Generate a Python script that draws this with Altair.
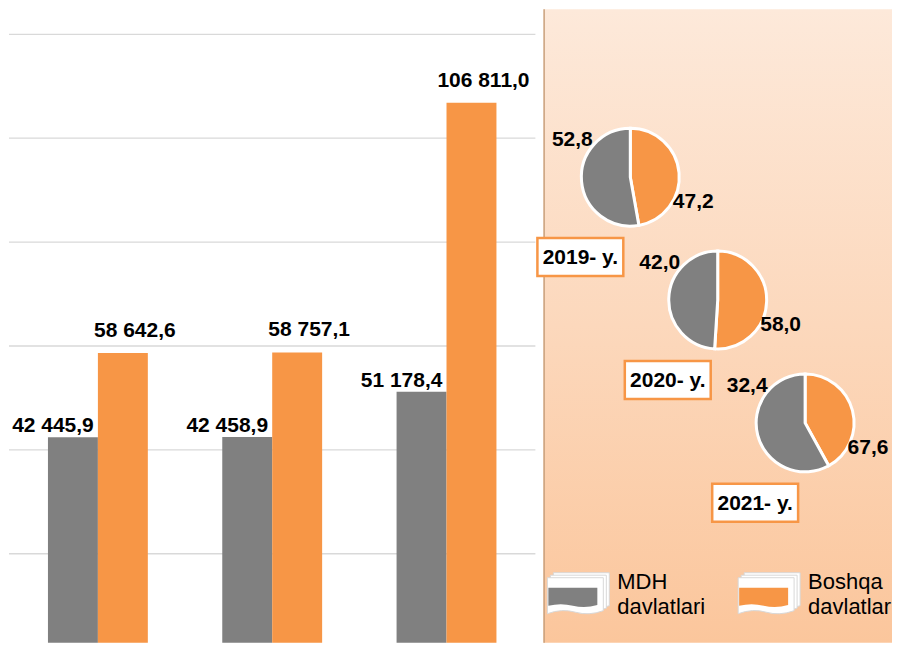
import altair as alt
import pandas as pd

# ---------------- data ----------------
years = ["2019", "2020", "2021"]
series = ["MDH davlatlari", "Boshqa davlatlar"]
mdh_values = [42445.9, 42458.9, 51178.4]
boshqa_values = [58642.6, 58757.1, 106811.0]
grid_values = [20000, 40000, 60000, 80000, 100000, 120000]

pie_mdh_labels = ["52,8", "42,0", "32,4"]
pie_boshqa_labels = ["47,2", "58,0", "67,6"]
# share of "Boshqa" slice as drawn in the picture (percent)
pie_boshqa_drawn = [47.2, 51.0, 42.0]
year_labels = ["2019- y.", "2020- y.", "2021- y."]
legend_lines = [["MDH", "davlatlari"], ["Boshqa", "davlatlar"]]

GRAY = "#808080"
ORANGE = "#F79646"
FONT = "Liberation Sans, Arial, sans-serif"


def fmt(v):
    return f"{v:,.1f}".replace(",", " ").replace(".", ",")


rows = []
for i, y in enumerate(years):
    rows.append({"year": y, "series": series[0], "value": mdh_values[i], "label": fmt(mdh_values[i])})
    rows.append({"year": y, "series": series[1], "value": boshqa_values[i], "label": fmt(boshqa_values[i])})
bars_df = pd.DataFrame(rows)

pie_rows = []
for i, y in enumerate(years):
    pie_rows.append({"year": y, "series": series[1], "share": pie_boshqa_drawn[i], "ord": 0,
                     "label": pie_boshqa_labels[i], "ylabel": year_labels[i]})
    pie_rows.append({"year": y, "series": series[0], "share": 100 - pie_boshqa_drawn[i], "ord": 1,
                     "label": pie_mdh_labels[i], "ylabel": year_labels[i]})
pie_df = pd.DataFrame(pie_rows)

legend_df = pd.DataFrame({"series": series, "text": legend_lines})
grid_df = pd.DataFrame({"v": grid_values})

LW, RW, H = 527, 349, 634

color_enc = alt.Color("series:N", scale=alt.Scale(domain=series, range=[GRAY, ORANGE]), legend=None)

# ---------------- left: bar chart ----------------
yscale = alt.Scale(domain=[2885, 124808], zero=False, nice=False)
x_enc = alt.X("year:N", sort=years, axis=None,
              scale=alt.Scale(paddingInner=0.427, paddingOuter=0.2235))
xoff = alt.XOffset("series:N", sort=series, scale=alt.Scale(paddingInner=0, paddingOuter=0))
y_enc = alt.Y("value:Q", stack=None, scale=yscale, axis=None)

grid = alt.Chart(grid_df).mark_rule(color="#D9D9D9", strokeWidth=1.3).encode(
    y=alt.Y("v:Q", scale=yscale, axis=None))

bars = alt.Chart(bars_df).mark_bar(clip=True).encode(
    x=x_enc, xOffset=xoff, y=y_enc, y2=alt.datum(0), color=color_enc
)
lbl_common = dict(font=FONT, fontSize=21, fontWeight="bold", color="black",
                  baseline="alphabetic", clip=True)
lbl_mdh = alt.Chart(bars_df).transform_filter(alt.datum.series == series[0]).mark_text(
    dx=-20, dy=-5, **lbl_common).encode(x=x_enc, xOffset=xoff, y=y_enc, text="label:N")
lbl_bos = alt.Chart(bars_df).transform_filter(alt.datum.series == series[1]).mark_text(
    dx=12, dy=-16, **lbl_common).encode(x=x_enc, xOffset=xoff, y=y_enc, text="label:N")

left = alt.layer(grid, bars, lbl_mdh, lbl_bos).properties(width=LW, height=H)

# ---------------- right: pies panel ----------------
px = alt.X("year:N", sort=years, axis=None,
           scale=alt.Scale(type="point", domain=years, range=[87, 262], padding=0))
py = alt.Y("year:N", sort=years, axis=None,
           scale=alt.Scale(type="point", domain=years, range=[168, 414], padding=0))

one = pd.DataFrame({"a": [0]})
bg = alt.Chart(one).mark_rect(
    fill=alt.Gradient(gradient="linear",
                      stops=[alt.GradientStop(color="#FDE9DA", offset=0),
                             alt.GradientStop(color="#FCD8BC", offset=0.5),
                             alt.GradientStop(color="#FBC69C", offset=1)],
                      x1=0, x2=0, y1=0, y2=1)
).encode(x=alt.value(0), x2=alt.value(RW), y=alt.value(0), y2=alt.value(H))

border = alt.Chart(one).mark_rule(color="#C9A27F", strokeWidth=1.5).encode(
    x=alt.value(0.75), y=alt.value(0), y2=alt.value(H))

pies = alt.Chart(pie_df).transform_stack(
    stack="share", groupby=["year"], as_=["s0", "s1"], sort=[alt.SortField("ord")]
).mark_arc(radius=49, stroke="white", strokeWidth=3).encode(
    x=px, y=py,
    theta=alt.Theta("s0:Q", scale=alt.Scale(domain=[0, 100])),
    theta2="s1:Q",
    color=color_enc,
)

plbl_common = dict(font=FONT, fontSize=21, fontWeight="bold", color="black",
                   align="center", baseline="middle")
pl_mdh = alt.Chart(pie_df).transform_filter(alt.datum.series == series[0]).mark_text(
    dx=-58, dy=-37, **plbl_common).encode(x=px, y=py, text="label:N")
pl_bos = alt.Chart(pie_df).transform_filter(alt.datum.series == series[1]).mark_text(
    dx=63, dy=25, **plbl_common).encode(x=px, y=py, text="label:N")

BOX = "M-1,-0.442H1V0.442H-1Z"
ybox = alt.Chart(pie_df).transform_filter(alt.datum.series == series[0]).mark_point(
    shape=BOX, size=86 * 86, filled=True, fill="white", stroke=ORANGE, strokeWidth=2.5,
    opacity=1, xOffset=-50, yOffset=80).encode(x=px, y=py)
ytext = alt.Chart(pie_df).transform_filter(alt.datum.series == series[0]).mark_text(
    dx=-50, dy=81, font=FONT, fontSize=21, fontWeight="bold", color="black",
    align="center", baseline="middle").encode(x=px, y=py, text="ylabel:N")

# legend
lx = alt.X("series:N", sort=series, axis=None,
           scale=alt.Scale(type="point", domain=series, range=[32, 223], padding=0))
ly = alt.value(587)
CARD = "M-0.933,-0.6H0.933V0.5Q0.45,0.68 0,0.55T-0.933,0.6Z"
SWATCH = "M-0.817,-0.3H0.817V0.28Q0.4,0.4 0,0.3T-0.817,0.3Z"
card_common = dict(shape=CARD, size=3600, filled=True, fill="white",
                   stroke="#D8D8D8", strokeWidth=1, opacity=1)
card3 = alt.Chart(legend_df).mark_point(xOffset=6, yOffset=-5, **card_common).encode(x=lx, y=ly)
card2 = alt.Chart(legend_df).mark_point(xOffset=3, yOffset=-2.5, **card_common).encode(x=lx, y=ly)
card1 = alt.Chart(legend_df).mark_point(**card_common).encode(x=lx, y=ly)
swatch = alt.Chart(legend_df).mark_point(shape=SWATCH, size=3600, filled=True, opacity=1,
                                         strokeWidth=0, xOffset=-2.5, yOffset=1).encode(
    x=lx, y=ly, color=color_enc)
ltext = alt.Chart(legend_df).mark_text(
    align="left", baseline="top", dx=42, dy=-24, fontSize=22, lineHeight=25,
    font=FONT, color="black").encode(x=lx, y=ly, text="text")

right = alt.layer(bg, border, pies, pl_mdh, pl_bos, ybox, ytext,
                  card3, card2, card1, swatch, ltext).resolve_scale(
    x="independent", y="independent").properties(width=RW, height=H)

chart = alt.hconcat(left, right, spacing=8, bounds="flush").properties(
    padding=0, background="white"
).configure_view(strokeWidth=0, stroke="transparent")

chart.save("out.html", embed_options={"renderer": "svg", "actions": False})
